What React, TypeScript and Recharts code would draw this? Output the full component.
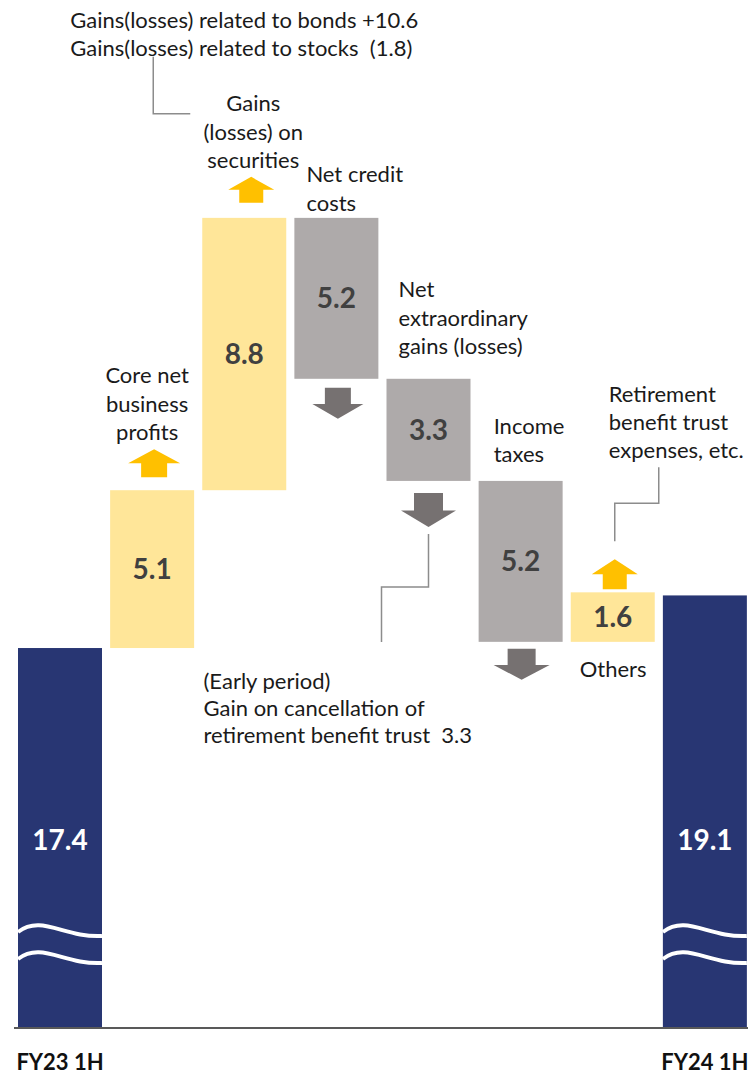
import React from 'react';
import { BarChart, Bar, XAxis, YAxis } from 'recharts';

// ---------- data ----------
const categories = [
  'FY23 1H',
  'Core net business profits',
  'Gains (losses) on securities',
  'Net credit costs',
  'Net extraordinary gains (losses)',
  'Income taxes',
  'Others',
  'FY24 1H',
];
const changes = [17.4, 5.1, 8.8, -5.2, -3.3, -5.2, 1.6, 19.1];
const isTotal = [true, false, false, false, false, false, false, true];
const valueLabels = ['17.4', '5.1', '8.8', '5.2', '3.3', '5.2', '1.6', '19.1'];
const tickLabels = ['FY23 1H', '', '', '', '', '', '', 'FY24 1H'];
const categoryLabelLines = [
  [],
  ['Core net', 'business', 'profits'],
  ['Gains', '(losses) on', 'securities'],
  ['Net credit', 'costs'],
  ['Net', 'extraordinary', 'gains (losses)'],
  ['Income', 'taxes'],
  ['Others'],
  [],
];
const noteSecurities = ['Gains(losses) related to bonds +10.6', 'Gains(losses) related to stocks  (1.8)'];
const noteExtraordinary = ['(Early period)', 'Gain on cancellation of', 'retirement benefit trust  3.3'];
const noteOthers = ['Retirement', 'benefit trust', 'expenses, etc.'];

// axis break: the value axis starts above zero
const Y_MIN = 5.122;
const Y_MAX = 38.34;

// ---------- build table ----------
let running = 0;
const data = categories.map((name, i) => {
  let range: [number, number];
  if (isTotal[i]) {
    range = [0, changes[i]];
    running = changes[i];
  } else {
    const next = Math.round((running + changes[i]) * 10) / 10;
    range = [Math.min(running, next), Math.max(running, next)];
    running = next;
  }
  return { name, range, idx: i, tick: tickLabels[i] };
});

// ---------- styles ----------
const FONT = 'Lato, Carlito, Calibri, sans-serif';
const NAVY = '#283673';
const YELLOW = '#FFE699';
const GRAY = '#AEAAAA';
const UP_ARROW = '#FFC000';
const DOWN_ARROW = '#767171';
const LEADER = '#8C8C8C';
const TEXT = '#1A1A1A';
const VALUE_TEXT = '#404040';
const LABEL_SIZE = 22;
const CHART_W = 751;
const CHART_H = 1075;
const AXIS_H = 47;
const PLOT_BOTTOM = CHART_H - AXIS_H;

const upArrow = (cx: number, top: number, bottom: number, w: number, stem: number, key: string) => {
  const h = bottom - top;
  const head = h * 0.5;
  const d = `M${cx},${top} L${cx + w / 2},${top + head} L${cx + stem / 2},${top + head} L${cx + stem / 2},${bottom} L${cx - stem / 2},${bottom} L${cx - stem / 2},${top + head} L${cx - w / 2},${top + head} Z`;
  return <path key={key} d={d} fill={UP_ARROW} />;
};
const downArrow = (cx: number, top: number, bottom: number, w: number, stem: number, key: string) => {
  const h = bottom - top;
  const stemH = h * 0.52;
  const d = `M${cx - stem / 2},${top} L${cx + stem / 2},${top} L${cx + stem / 2},${top + stemH} L${cx + w / 2},${top + stemH} L${cx},${bottom} L${cx - w / 2},${top + stemH} L${cx - stem / 2},${top + stemH} Z`;
  return <path key={key} d={d} fill={DOWN_ARROW} />;
};

const lines = (
  arr: string[],
  x: number,
  baselines: number[],
  anchor: 'start' | 'middle',
  key: string
) => (
  <text key={key} fontFamily={FONT} fontSize={LABEL_SIZE} fill={TEXT} textAnchor={anchor}>
    {arr.map((l, j) => (
      <tspan key={j} x={x} y={baselines[j]} style={{ whiteSpace: 'pre' }}>
        {l}
      </tspan>
    ))}
  </text>
);

const wave = (x: number, w: number, y0: number, key: string) => (
  <path
    key={key}
    d={`M${x},${y0} C${x + w * 0.28},${y0 - 18} ${x + w * 0.55},${y0 + 6} ${x + w},${y0 + 4}`}
    stroke="#FFFFFF"
    strokeWidth={4}
    fill="none"
  />
);

const BarShape = (props: any) => {
  const { x, y, width, height, payload } = props;
  const i: number = payload.idx;
  const top = y;
  const bottom = y + height;
  const cx = x + width / 2;
  const total = isTotal[i];
  const up = changes[i] > 0;
  const fill = total ? NAVY : up ? YELLOW : GRAY;
  const els: React.ReactNode[] = [];
  els.push(<rect key="r" x={x} y={y} width={width} height={height} fill={fill} />);

  if (total) {
    els.push(wave(x, width, PLOT_BOTTOM - 96, 'w1'));
    els.push(wave(x, width, PLOT_BOTTOM - 69, 'w2'));
    els.push(
      <text key="v" x={cx} y={PLOT_BOTTOM - 188} dy="0.35em" textAnchor="middle" fontFamily={FONT} fontWeight={700} fontSize={28} fill="#FFFFFF">
        {valueLabels[i]}
      </text>
    );
    return <g>{els}</g>;
  }

  els.push(
    <text key="v" x={cx} y={top + (bottom - top) / 2} dy="0.35em" textAnchor="middle" fontFamily={FONT} fontWeight={700} fontSize={28} fill={VALUE_TEXT}>
      {valueLabels[i]}
    </text>
  );
  const lab = categoryLabelLines[i];

  if (i === 1) {
    els.push(lines(lab, cx - 5, [top - 107, top - 78, top - 50], 'middle', 'l'));
    els.push(upArrow(cx + 2, top - 41, top - 13, 52, 26, 'a'));
  } else if (i === 2) {
    els.push(lines(lab, cx + 9, [top - 107, top - 78, top - 50], 'middle', 'l'));
    els.push(upArrow(cx + 7, top - 41, top - 15, 46, 24, 'a'));
    els.push(
      <polyline key="ld" points={`${x - 12},${top - 104} ${x - 49},${top - 104} ${x - 49},${top - 161}`} fill="none" stroke={LEADER} strokeWidth={1.5} />
    );
    els.push(lines(noteSecurities, x - 132, [top - 190, top - 162], 'start', 'n'));
  } else if (i === 3) {
    els.push(lines(lab, x + 12, [top - 36, top - 7], 'start', 'l'));
    els.push(downArrow(cx + 1.5, bottom + 9, bottom + 40, 51, 26, 'a'));
  } else if (i === 4) {
    els.push(lines(lab, x + 12, [top - 82, top - 53, top - 25], 'start', 'l'));
    els.push(downArrow(cx, bottom + 12, bottom + 46, 55, 29, 'a'));
    els.push(
      <polyline key="ld" points={`${cx},${bottom + 53} ${cx},${bottom + 106} ${x - 5},${bottom + 106} ${x - 5},${bottom + 161}`} fill="none" stroke={LEADER} strokeWidth={1.5} />
    );
    els.push(lines(noteExtraordinary, x - 183, [bottom + 208, bottom + 235, bottom + 262], 'start', 'n'));
  } else if (i === 5) {
    els.push(lines(lab, x + 15, [top - 47, top - 19], 'start', 'l'));
    els.push(downArrow(cx + 1, bottom + 7, bottom + 38, 56, 28, 'a'));
  } else if (i === 6) {
    els.push(lines(lab, x + 9, [bottom + 35], 'start', 'l'));
    els.push(upArrow(cx + 2, top - 33, top - 3, 46, 24, 'a'));
    els.push(
      <polyline key="ld" points={`${cx + 2},${top - 51} ${cx + 2},${top - 89} ${cx + 46},${top - 89} ${cx + 46},${top - 125}`} fill="none" stroke={LEADER} strokeWidth={1.5} />
    );
    els.push(lines(noteOthers, x + 38, [top - 190, top - 162, top - 134], 'start', 'n'));
  }
  return <g>{els}</g>;
};

const Tick = (props: any) => {
  const { x, payload } = props;
  const label = tickLabels[categories.indexOf(payload.value)];
  if (!label) return null;
  return (
    <text x={x} y={PLOT_BOTTOM + 42} textAnchor="middle" fontFamily={FONT} fontWeight={700} fontSize={22} fill="#111111">
      {label}
    </text>
  );
};

export default function App() {
  return (
    <div style={{ position: 'absolute', left: 0, top: 0, width: 748, height: CHART_H, overflow: 'hidden', background: '#FFFFFF' }}>
      <BarChart
        width={CHART_W}
        height={CHART_H}
        data={data}
        margin={{ top: 0, right: 0, bottom: 0, left: 14 }}
        barCategoryGap={8}
      >
        <XAxis
          dataKey="name"
          height={AXIS_H}
          tickLine={false}
          axisLine={{ stroke: '#595959', strokeWidth: 2 }}
          tick={<Tick />}
          interval={0}
        />
        <YAxis hide domain={[Y_MIN, Y_MAX]} allowDataOverflow type="number" />
        <Bar dataKey="range" barSize={84} isAnimationActive={false} shape={<BarShape />} />
      </BarChart>
    </div>
  );
}
